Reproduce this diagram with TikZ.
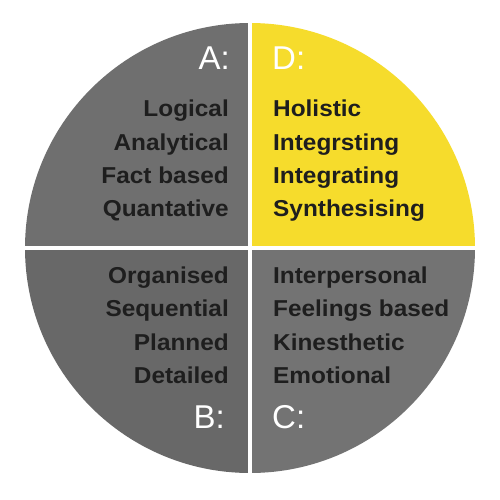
\documentclass[tikz,border=0pt]{standalone}
\usepackage{fontspec}
\setmainfont{Liberation Sans}
\newfontfamily\wordfont[FakeStretch=1.06]{Liberation Sans}
\definecolor{greyA}{HTML}{6F6F6F}
\definecolor{greyB}{HTML}{686868}
\definecolor{greyC}{HTML}{737373}
\definecolor{yel}{HTML}{F6DC2C}
\definecolor{txt}{HTML}{1E1E1E}
\tikzset{
  word/.style={inner sep=0pt, text=txt, font=\wordfont\fontsize{23}{23}\selectfont\bfseries},
  quadlabel/.style={inner sep=0pt, text=white, font=\fontsize{33}{33}\selectfont},
}
\begin{document}
\begin{tikzpicture}[x=1pt,y=-1pt]
\fill[white] (0,0) rectangle (500,500);
\useasboundingbox (0,0) rectangle (500,500);
\coordinate (ctr) at (250,248);
\begin{scope}
  \clip (ctr) circle (225pt);
  \fill[greyA] (0,0) rectangle (ctr);
  \fill[yel] (500,0) rectangle (ctr);
  \fill[greyB] (0,500) rectangle (ctr);
  \fill[greyC] (500,500) rectangle (ctr);
\end{scope}
\draw[white, line width=3.5pt] (250,10) -- (250,490);
\draw[white, line width=3.5pt] (10,248) -- (490,248);

\node[quadlabel, anchor=base east] (la) at (230,70) {A:};
\node[quadlabel, anchor=base west] (ld) at (272,70) {D:};
\node[quadlabel, anchor=base east] (lb) at (225,428) {B:};
\node[quadlabel, anchor=base west] (lc) at (272,428) {C:};

\node[word, anchor=base east] (a1) at (229,117) {Logical};
\node[word, anchor=base east] (a2) at (229,150.3) {Analytical};
\node[word, anchor=base east] (a3) at (229,183.6) {Fact based};
\node[word, anchor=base east] (a4) at (229,216.9) {Quantative};

\node[word, anchor=base west] (d1) at (273,117) {Holistic};
\node[word, anchor=base west] (d2) at (273,150.3) {Integrsting};
\node[word, anchor=base west] (d3) at (273,183.6) {Integrating};
\node[word, anchor=base west] (d4) at (273,216.9) {Synthesising};

\node[word, anchor=base east] (b1) at (229,283.5) {Organised};
\node[word, anchor=base east] (b2) at (229,316.8) {Sequential};
\node[word, anchor=base east] (b3) at (229,350.1) {Planned};
\node[word, anchor=base east] (b4) at (229,383.4) {Detailed};

\node[word, anchor=base west] (c1) at (273,283.5) {Interpersonal};
\node[word, anchor=base west] (c2) at (273,316.8) {Feelings based};
\node[word, anchor=base west] (c3) at (273,350.1) {Kinesthetic};
\node[word, anchor=base west] (c4) at (273,383.4) {Emotional};
\end{tikzpicture}
\end{document}
